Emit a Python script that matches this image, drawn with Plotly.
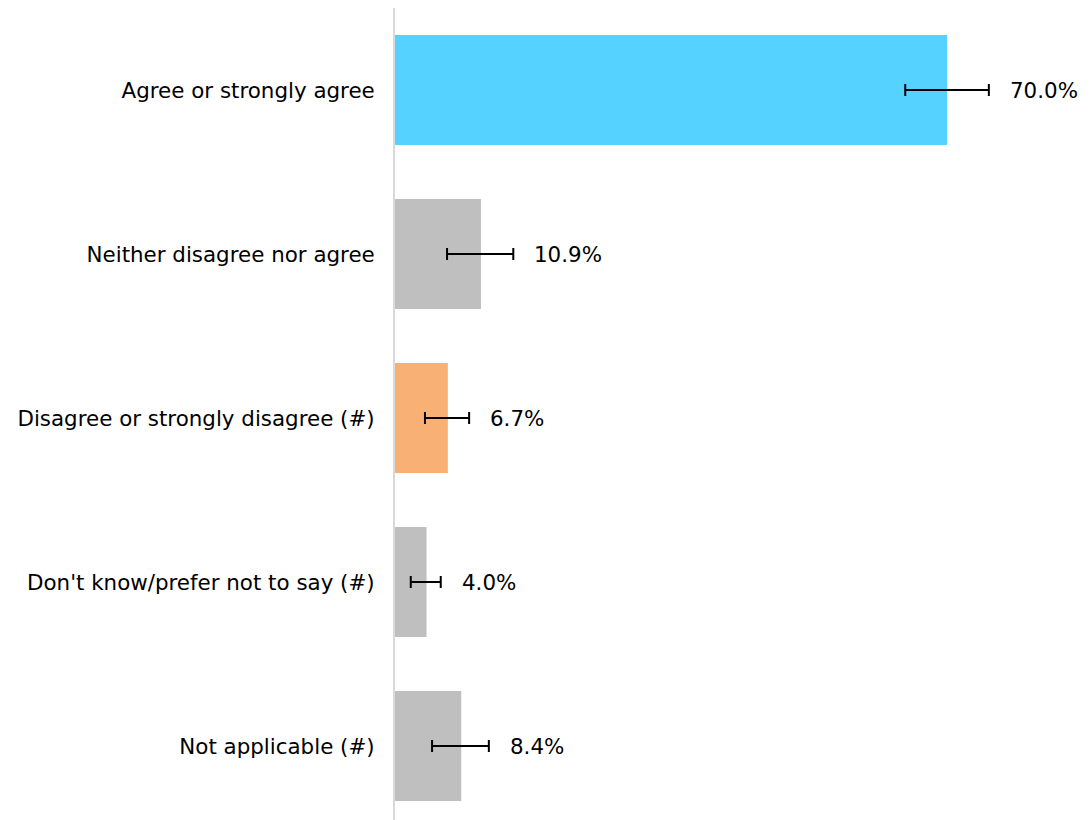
import plotly.graph_objects as go

categories = ["Agree or strongly agree", "Neither disagree nor agree",
              "Disagree or strongly disagree (#)", "Don't know/prefer not to say (#)",
              "Not applicable (#)"]
values = [70.0, 10.9, 6.7, 4.0, 8.4]
err_minus = [5.3, 4.3, 2.9, 2.0, 3.7]
err_plus = [5.3, 4.1, 2.7, 1.8, 3.5]
labels = ["70.0%", "10.9%", "6.7%", "4.0%", "8.4%"]
colors = ["#55D2FF", "#BFBFBF", "#F9B074", "#BFBFBF", "#BFBFBF"]

FONT = "DejaVu Sans"
FS = 21.4

fig = go.Figure()
fig.add_trace(go.Bar(
    y=categories, x=values, orientation="h",
    marker=dict(color=colors, line=dict(width=0)),
    width=0.67,
    error_x=dict(type="data", symmetric=False, array=err_plus, arrayminus=err_minus,
                 color="black", thickness=2, width=6),
    hoverinfo="skip",
))

for c, v, ep, lab in zip(categories, values, err_plus, labels):
    fig.add_annotation(x=v + ep, y=c, text=lab, showarrow=False,
                       xanchor="left", xshift=19,
                       font=dict(family=FONT, size=FS, color="black"))

fig.update_layout(
    width=1091, height=820,
    margin=dict(l=387, r=10, t=0, b=0),
    plot_bgcolor="white", paper_bgcolor="white",
    showlegend=False,
    font=dict(family=FONT, size=FS, color="black"),
    xaxis=dict(range=[0, 88.0], showgrid=False, zeroline=False, showticklabels=False,
               ticks="", showline=False),
    yaxis=dict(categoryorder="array", categoryarray=categories[::-1],
               showgrid=False, zeroline=False, ticks="", ticklen=0,
               ticklabelstandoff=14,
               showline=True, linecolor="#D9D9D9", linewidth=2,
               tickfont=dict(family=FONT, size=FS, color="black")),
)

fig.write_html("out.html")
